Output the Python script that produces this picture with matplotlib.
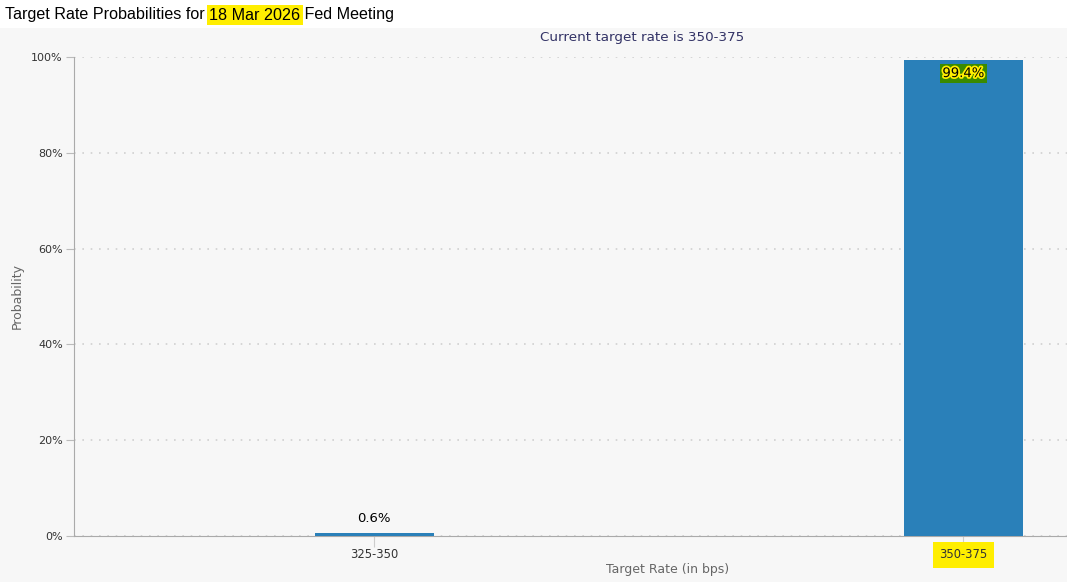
import matplotlib.pyplot as plt
import matplotlib.patheffects as pe
from matplotlib.patches import Rectangle

# data
rates = ['325-350', '350-375']
probs = [0.6, 99.4]
current = '350-375'
meeting = '18 Mar 2026'

W, H = 1067, 582
fig = plt.figure(figsize=(W / 100, H / 100), dpi=100)
fig.patch.set_facecolor('#f7f7f7')

# white strip behind the title
fig.patches.append(Rectangle((0, 1 - 28 / H), 1, 28 / H, transform=fig.transFigure,
                             facecolor='white', edgecolor='none', zorder=0))

# axes: left 74px, 0% at y=536, 100% at y=57
ax = fig.add_axes([74 / W, 1 - 536 / H, (W - 74) / W, (536 - 57) / H])
ax.set_facecolor('#f7f7f7')

x = list(range(len(rates)))
ax.bar(x, probs, width=0.203, color='#2a80b9', zorder=3)
ax.set_xlim(-0.51, 1.176)
ax.set_ylim(0, 100)

ax.set_yticks([0, 20, 40, 60, 80, 100])
ax.set_yticklabels([f'{v}%' for v in [0, 20, 40, 60, 80, 100]])
ax.set_xticks(x)
ax.set_xticklabels(rates)
ax.tick_params(axis='y', length=6, color='#bbbbbb', labelsize=8, labelcolor='#333333', pad=2)
ax.tick_params(axis='x', length=8, color='#cccccc', labelsize=8.3, labelcolor='#333333', pad=1)
ax.grid(axis='y', color='#d0d0d0', linestyle=(0, (1, 4)), linewidth=1.2, zorder=1)

for side in ['top', 'right']:
    ax.spines[side].set_visible(False)
ax.spines['left'].set_color('#aaaaaa')
ax.spines['bottom'].set_color('#aaaaaa')

# highlight on current rate tick label
for lbl in ax.get_xticklabels():
    if lbl.get_text() == current:
        lbl.set_bbox(dict(facecolor='#ffee00', edgecolor='none', pad=4.5))

# value labels
for xi, p in zip(x, probs):
    if p > 50:
        # green marker box, then the outlined text on top
        ax.text(xi, p - 1.5, f'{p}%', ha='center', va='top', fontsize=9.5, color='none',
                zorder=4, bbox=dict(facecolor='#3a8a00', edgecolor='none', pad=2))
        ax.text(xi, p - 1.5, f'{p}%', ha='center', va='top', fontsize=9.5, color='black',
                zorder=5, path_effects=[pe.withStroke(linewidth=2.5, foreground='#ffee00')])
    else:
        ax.text(xi, p + 1.8, f'{p}%', ha='center', va='bottom', fontsize=9.5,
                color='black', zorder=5)

fig.text(17 / W, 1 - 296 / H, 'Probability', rotation=90, ha='center', va='center',
         fontsize=9, color='#666666')
fig.text(668 / W, 1 - 570 / H, 'Target Rate (in bps)', ha='center', va='center',
         fontsize=9, color='#666666')
fig.text(642 / W, 1 - 38 / H, f'Current target rate is {current}', ha='center',
         va='center', fontsize=9.7, color='#333366')

# title, in three pieces so the date can be highlighted
fig.canvas.draw()
r = fig.canvas.get_renderer()
tx, ty = 5 / W, 1 - 15 / H
parts = [('Target Rate Probabilities for ', None), (meeting, '#ffee00'), (' Fed Meeting', None)]
for txt, hl in parts:
    kw = dict(fontsize=11.6, family='Liberation Sans', color='black', va='center', ha='left')
    if hl:
        kw['bbox'] = dict(facecolor=hl, edgecolor='none', pad=2)
    t = fig.text(tx, ty, txt, **kw)
    bb = t.get_window_extent(renderer=r)
    tx = bb.x1 / W

fig.savefig('out.png', dpi=100, facecolor=fig.get_facecolor())
